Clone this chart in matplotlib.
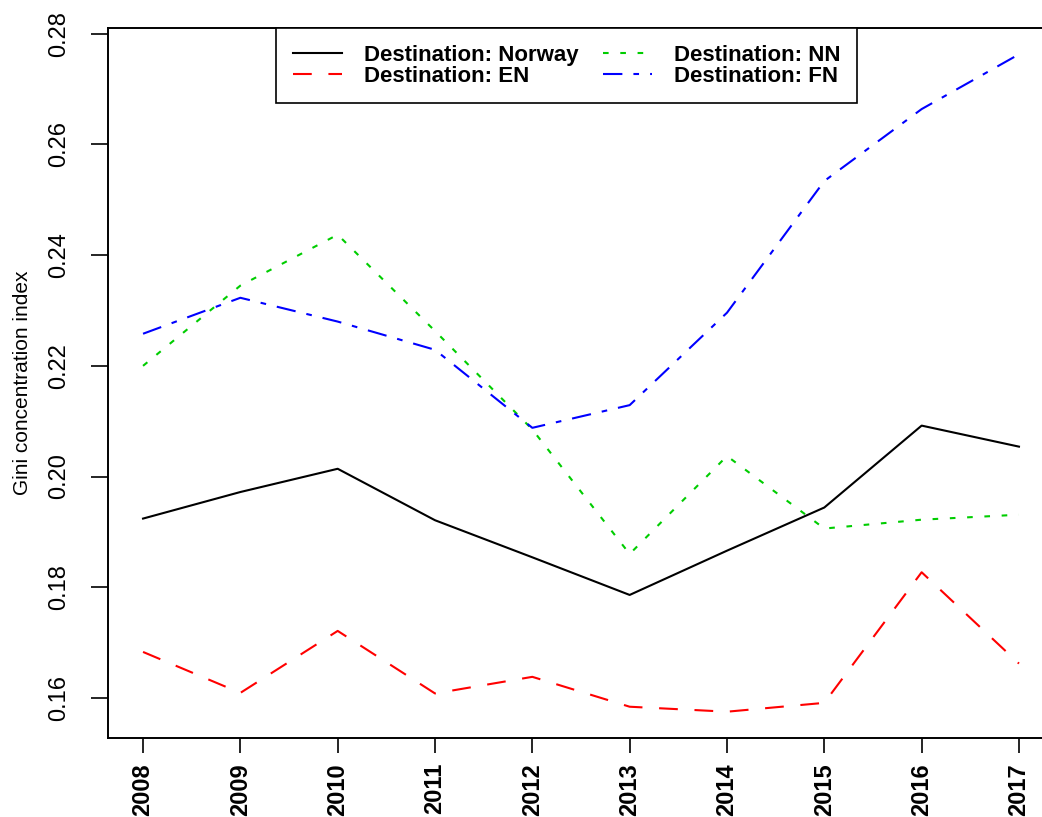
import numpy as np
import matplotlib
matplotlib.use("Agg")
import matplotlib.pyplot as plt

plt.rcParams["font.family"] = ["Liberation Sans", "DejaVu Sans"]

years = [2008, 2009, 2010, 2011, 2012, 2013, 2014, 2015, 2016, 2017]
norway = [0.1924, 0.1972, 0.2014, 0.1921, 0.1854, 0.1786, 0.1866, 0.1944, 0.2092, 0.2054]
en = [0.1683, 0.1609, 0.1721, 0.1608, 0.1638, 0.1584, 0.1575, 0.1591, 0.1827, 0.1662]
nn = [0.2200, 0.2345, 0.2437, 0.2263, 0.2085, 0.1860, 0.2037, 0.1906, 0.1922, 0.1931]
fn = [0.2258, 0.2323, 0.2280, 0.2229, 0.2088, 0.2129, 0.2296, 0.2534, 0.2664, 0.2763]
yticks = [0.16, 0.18, 0.20, 0.22, 0.24, 0.26, 0.28]

W, H = 1042, 817
fig = plt.figure(figsize=(W / 100, H / 100), dpi=100)
# R-style plot region; right edge runs off the canvas like the reference
ax = fig.add_axes([108 / W, 79 / H, 946 / W, 710 / H])

lw = 1.5
ax.plot(years, norway, color="black", lw=lw, label="Destination: Norway")
ax.plot(years, en, color="#FF0000", lw=lw, dashes=(9, 8), label="Destination: EN")
ax.plot(years, nn, color="#00CD00", lw=lw, dashes=(2.7, 5.6), label="Destination: NN")
ax.plot(years, fn, color="#0000FF", lw=lw, dashes=(9.3, 5.3, 2.7, 5.3),
        label="Destination: FN")

# R default: 4% padding on both axes
ymin, ymax = min(en), max(fn)
pad = 0.04 * (ymax - ymin)
ax.set_ylim(ymin - pad, ymax + pad)
ax.set_xlim(years[0] - 0.04 * 9, years[-1] + 0.04 * 9)

ax.set_xticks(years)
ax.set_xticklabels([str(y) for y in years], rotation=90, fontsize=17,
                   fontweight="bold")
ax.set_yticks(yticks)
ax.set_yticklabels([f"{v:.2f}" for v in yticks], rotation=90, fontsize=17)
for lab in ax.get_yticklabels():
    lab.set_verticalalignment("center")
ax.tick_params(axis="x", length=11, width=1.2, pad=7)
ax.tick_params(axis="y", length=12, width=1.2, pad=15)
for sp in ax.spines.values():
    sp.set_linewidth(1.4)

ax.set_ylabel("Gini concentration index", fontsize=15)
ax.yaxis.set_label_coords(-0.080, 0.5)

leg = ax.legend(ncol=2, loc="upper center", bbox_to_anchor=(0.485, 1.0),
                borderaxespad=0, fancybox=False, edgecolor="black",
                framealpha=1, prop={"size": 16, "weight": "bold"},
                handlelength=2.2, handletextpad=1.0, columnspacing=1.1,
                labelspacing=0.0, borderpad=0.75)
leg.get_frame().set_linewidth(1.2)

fig.savefig("out.png", dpi=100)
